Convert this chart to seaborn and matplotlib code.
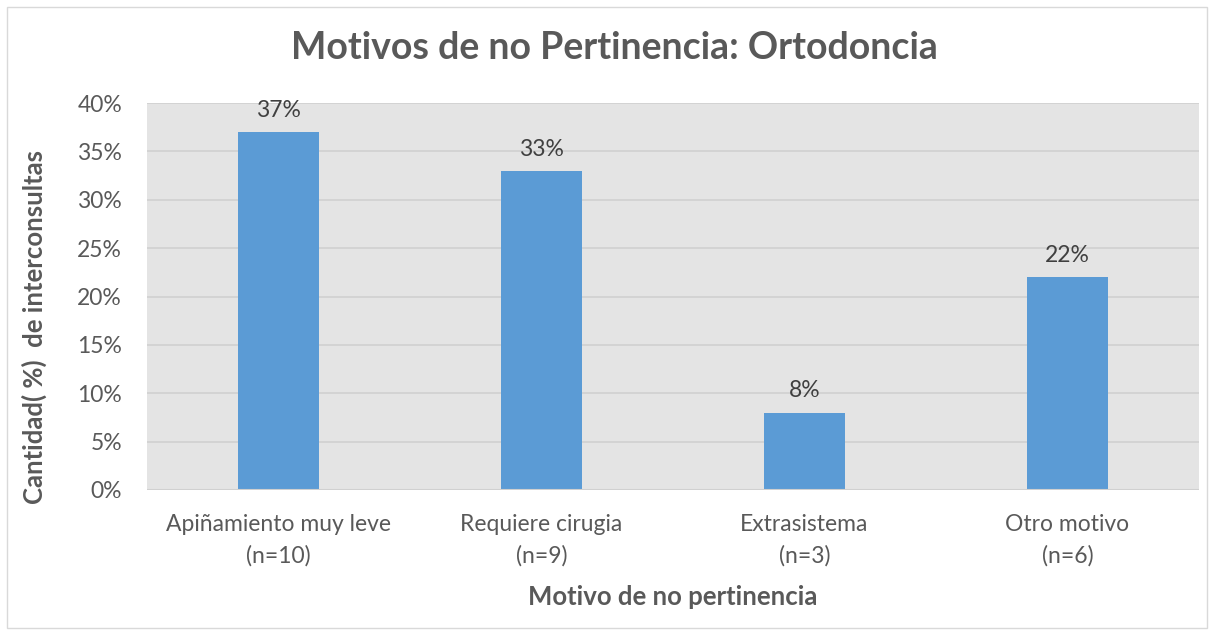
import matplotlib.pyplot as plt
import seaborn as sns
import pandas as pd
from matplotlib.patches import Rectangle
from matplotlib.ticker import PercentFormatter

# Chart data
categories = ["Apiñamiento muy leve\n(n=10)", "Requiere cirugia\n(n=9)",
              "Extrasistema\n(n=3)", "Otro motivo\n(n=6)"]
percentages = [37, 33, 8, 22]

df = pd.DataFrame({"Motivo": categories, "Porcentaje": percentages})

sns.set_theme(style="darkgrid")
plt.rcParams["font.family"] = ["Lato", "DejaVu Sans"]

text_color = "#595959"
fig = plt.figure(figsize=(12.15, 6.36), dpi=100)
ax = fig.add_axes([147 / 1215, 1 - 490 / 636, 1052 / 1215, 387 / 636])
ax.set_facecolor("#E4E4E4")

sns.barplot(data=df, x="Motivo", y="Porcentaje", color="#5B9BD5",
            width=0.31, saturation=1, linewidth=0, ax=ax)

for i, v in enumerate(percentages):
    ax.annotate(f"{v}%", (i, v), xytext=(0, 8), textcoords="offset points",
                ha="center", va="bottom", fontsize=16.5, color="#404040")

ax.set_ylim(0, 40)
ax.set_yticks(range(0, 41, 5))
ax.yaxis.set_major_formatter(PercentFormatter(decimals=0))
ax.grid(axis="y", color="#D0D0D0", linewidth=1.2)
ax.grid(axis="x", visible=False)
ax.set_axisbelow(True)
for s in ax.spines.values():
    s.set_visible(False)
ax.axhline(0, color="#D0D0D0", linewidth=1.5)

ax.tick_params(axis="both", length=0, labelsize=16.5, labelcolor=text_color)
ax.tick_params(axis="x", pad=17)
ax.tick_params(axis="y", pad=18)
for lbl in ax.get_xticklabels():
    lbl.set_linespacing(1.6)

ax.set_xlabel("Motivo de no pertinencia", fontsize=18.5, fontweight="bold",
              color=text_color, labelpad=13)
ax.set_ylabel("Cantidad( %)  de interconsultas", fontsize=18.5, fontweight="bold",
              color=text_color)
ax.yaxis.set_label_coords(-0.095, 0.42)
fig.text(0.506, 1 - 48 / 636, "Motivos de no Pertinencia: Ortodoncia",
         ha="center", va="center", fontsize=27, fontweight="bold", color=text_color)

fig.patches.append(Rectangle((7 / 1215, 1 - 628 / 636), 1200 / 1215, 621 / 636,
                             transform=fig.transFigure, fill=False,
                             edgecolor="#D9D9D9", linewidth=1))

fig.savefig("out.png", dpi=100, facecolor="white")
